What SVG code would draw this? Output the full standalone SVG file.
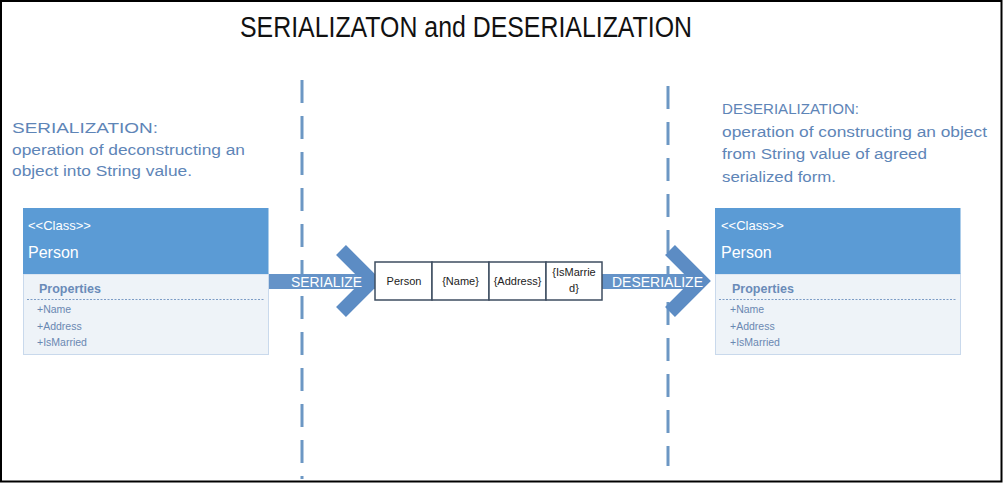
<svg xmlns="http://www.w3.org/2000/svg" width="1003" height="483" viewBox="0 0 1003 483">
<style>
text{font-family:"Liberation Sans",Arial,sans-serif}
.title{font-size:29px;fill:#111}
.desc{font-size:15.5px;fill:#5E85B7}
.hdr{fill:#5B9BD5}
.body{fill:#EEF3F8;stroke:#C9D9EC;stroke-width:1}
.w{fill:#fff}
.cls{font-size:13px}
.nm{font-size:16px}
.props{font-size:12.5px;font-weight:bold;fill:#6A8BB8}
.item{font-size:10.5px;fill:#6A88B2}
.dot{stroke:#7C9CC6;stroke-width:1;stroke-dasharray:2 1.5}
.sep{stroke:#6C97C4;stroke-width:3;stroke-dasharray:23 13;fill:none}
.bar{fill:#6593C8}
.chev{fill:none;stroke:#5C8CC4;stroke-width:14;stroke-linejoin:miter;stroke-miterlimit:4}
.lbl{font-size:15px;fill:#fff}
.cell{fill:#fff;stroke:#3E4D60;stroke-width:1.5}
.ct{font-size:11px;fill:#222;text-anchor:middle}
</style>
<rect x="1" y="1" width="1000.5" height="480.5" fill="#fff" stroke="#000" stroke-width="2"/>
<g id="title"><text class="title" x="466" y="37" text-anchor="middle" textLength="452" lengthAdjust="spacingAndGlyphs">SERIALIZATON and DESERIALIZATION</text></g>
<g id="separators">
<line class="sep" x1="302" y1="80" x2="302" y2="479"/>
<line class="sep" x1="668" y1="86" x2="668" y2="466"/>
</g>
<g id="serialization-note">
<text class="desc" x="12" y="133" textLength="146" lengthAdjust="spacingAndGlyphs">SERIALIZATION:</text>
<text class="desc" x="12" y="154.5" textLength="233" lengthAdjust="spacingAndGlyphs">operation of deconstructing an</text>
<text class="desc" x="12" y="176" textLength="180" lengthAdjust="spacingAndGlyphs">object into String value.</text>
</g>
<g id="deserialization-note">
<text class="desc" x="722" y="114" textLength="137" lengthAdjust="spacingAndGlyphs">DESERIALIZATION:</text>
<text class="desc" x="722" y="136.5" textLength="265" lengthAdjust="spacingAndGlyphs">operation of constructing an object</text>
<text class="desc" x="722" y="159" textLength="205" lengthAdjust="spacingAndGlyphs">from String value of agreed</text>
<text class="desc" x="722" y="181.5" textLength="114" lengthAdjust="spacingAndGlyphs">serialized form.</text>
</g>
<g id="connectors">
<rect class="bar" x="268" y="274" width="110" height="15"/>
<polyline class="chev" points="341,250 372,281 341,312"/>
<text class="lbl" x="291" y="287" textLength="71" lengthAdjust="spacingAndGlyphs">SERIALIZE</text>
<rect class="bar" x="602" y="274" width="100" height="15"/>
<polyline class="chev" points="670,250 701,281 670,312"/>
<text class="lbl" x="612" y="287" textLength="91" lengthAdjust="spacingAndGlyphs">DESERIALIZE</text>
</g>
<g id="class-left">
<rect class="body" x="23.5" y="274" width="245" height="80.5"/>
<rect class="hdr" x="23" y="208" width="245.5" height="66"/>
<text class="w cls" x="28" y="230">&lt;&lt;Class&gt;&gt;</text>
<text class="w nm" x="28" y="258">Person</text>
<text class="props" x="39" y="293">Properties</text>
<line class="dot" x1="27" y1="299.5" x2="265" y2="299.5"/>
<text class="item" x="37" y="313">+Name</text>
<text class="item" x="37" y="330">+Address</text>
<text class="item" x="37" y="346">+IsMarried</text>
</g>
<g id="serialized-string">
<rect class="cell" x="375" y="262" width="57" height="38"/>
<rect class="cell" x="432" y="262" width="57" height="38"/>
<rect class="cell" x="489" y="262" width="57" height="38"/>
<rect class="cell" x="546" y="262" width="56" height="38"/>
<text class="ct" x="404" y="285">Person</text>
<text class="ct" x="460.5" y="285">{Name}</text>
<text class="ct" x="517.5" y="285">{Address}</text>
<text class="ct" x="574" y="276">{IsMarrie</text>
<text class="ct" x="574" y="292">d}</text>
</g>
<g id="class-right">
<rect class="body" x="715.5" y="274" width="245" height="80.5"/>
<rect class="hdr" x="715" y="208" width="245.5" height="66"/>
<text class="w cls" x="721" y="230">&lt;&lt;Class&gt;&gt;</text>
<text class="w nm" x="721" y="258">Person</text>
<text class="props" x="732" y="293">Properties</text>
<line class="dot" x1="719" y1="299.5" x2="957" y2="299.5"/>
<text class="item" x="730" y="313">+Name</text>
<text class="item" x="730" y="330">+Address</text>
<text class="item" x="730" y="346">+IsMarried</text>
</g>
</svg>
